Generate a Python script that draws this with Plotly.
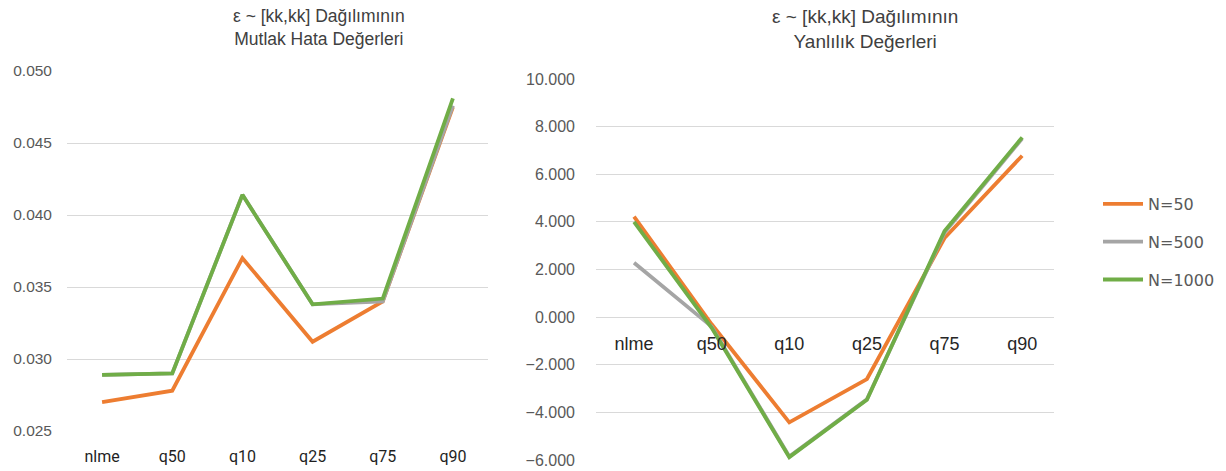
import plotly.graph_objects as go

# Categories shared by both panels
categories = ["nlme", "q50", "q10", "q25", "q75", "q90"]

# Mean absolute error per sample size
mae_n50 = [0.0270, 0.0278, 0.0370, 0.0312, 0.0340, 0.0475]
mae_n500 = [0.0289, 0.0290, 0.0414, 0.0338, 0.0340, 0.0476]
mae_n1000 = [0.0289, 0.0290, 0.0414, 0.0338, 0.0342, 0.0481]

# Bias per sample size
bias_n50 = [4.22, -0.30, -4.42, -2.60, 3.32, 6.78]
bias_n500 = [2.28, -0.40, -5.85, -3.45, 3.55, 7.50]
bias_n1000 = [4.00, -0.45, -5.88, -3.47, 3.62, 7.55]

series_names = ["N=50", "N=500", "N=1000"]
series_colors = ["#ED7D31", "#A5A5A5", "#70AD47"]

W, H = 1226, 471
FONT = "Liberation Sans, Arial, sans-serif"
GRID = "#D9D9D9"
TICK = "#595959"


def px_x(p):
    return p / W


def px_y(p):
    return 1 - p / H


fig = go.Figure()

for name, color, vals in zip(series_names, series_colors, [mae_n50, mae_n500, mae_n1000]):
    fig.add_trace(go.Scatter(
        x=categories, y=vals, mode="lines", name=name,
        line=dict(color=color, width=3.8), legendgroup=name,
        xaxis="x", yaxis="y", showlegend=False,
    ))

for name, color, vals in zip(series_names, series_colors, [bias_n50, bias_n500, bias_n1000]):
    fig.add_trace(go.Scatter(
        x=categories, y=vals, mode="lines", name=name,
        line=dict(color=color, width=3.8), legendgroup=name,
        xaxis="x2", yaxis="y2", showlegend=True,
    ))

# Right panel: y range and the paper position of its zero line
y2_min, y2_max = -6, 10
y2_dom = [px_y(460), px_y(79)]
zero_pos = y2_dom[0] + (0 - y2_min) / (y2_max - y2_min) * (y2_dom[1] - y2_dom[0])

cat_font_left = dict(family="Roboto, " + FONT, size=16, color="#1F1F1F")
cat_font_right = dict(family=FONT, size=18, color="#262626")

fig.update_layout(
    width=W, height=H,
    margin=dict(l=0, r=0, t=0, b=0, autoexpand=False),
    paper_bgcolor="white", plot_bgcolor="white",
    font=dict(family=FONT, color=TICK),
    xaxis=dict(
        domain=[px_x(67), px_x(488)], anchor="y", automargin=False,
        showgrid=False, showline=False, zeroline=False,
        tickfont=cat_font_left, ticks="", ticklabelstandoff=14,
        range=[-0.5, 5.5],
    ),
    yaxis=dict(
        domain=[px_y(431), px_y(71)], anchor="x", automargin=False,
        range=[0.025, 0.050], dtick=0.005, tickformat=".3f",
        showgrid=True, gridcolor=GRID, gridwidth=1, zeroline=False,
        showline=False, tickfont=dict(family=FONT, size=15.5, color=TICK),
        ticks="", ticklabelstandoff=14,
    ),
    xaxis2=dict(
        domain=[px_x(596), px_x(1054)], anchor="free", position=zero_pos,
        automargin=False,
        showgrid=False, showline=False, zeroline=False,
        tickfont=cat_font_right, ticks="", ticklabelstandoff=14,
        range=[-0.49, 5.41],
    ),
    yaxis2=dict(
        domain=y2_dom, anchor="x2", automargin=False,
        range=[y2_min, y2_max], dtick=2, tickformat=".3f",
        showgrid=True, gridcolor=GRID, gridwidth=1, zeroline=False,
        showline=False, tickfont=dict(family=FONT, size=16, color=TICK),
        ticks="", ticklabelstandoff=20,
    ),
    legend=dict(
        x=px_x(1098), y=px_y(187), xanchor="left", yanchor="top",
        font=dict(family="DejaVu Sans, " + FONT, size=16, color=TICK),
        tracegroupgap=14, itemwidth=40, bgcolor="rgba(0,0,0,0)",
    ),
    showlegend=True,
)

title_font = dict(family=FONT, size=17.5, color="#404040")
fig.add_annotation(
    text="ε ~ [kk,kk] Dağılımının<br>Mutlak Hata Değerleri",
    x=px_x(319), y=px_y(4), xref="paper", yref="paper",
    xanchor="center", yanchor="top", showarrow=False, font=title_font,
)
fig.add_annotation(
    text="ε ~ [kk,kk] Dağılımının<br>Yanlılık Değerleri",
    x=px_x(865), y=px_y(4), xref="paper", yref="paper",
    xanchor="center", yanchor="top", showarrow=False,
    font=dict(family=FONT, size=19, color="#404040"),
)

fig.write_html("out.html")
